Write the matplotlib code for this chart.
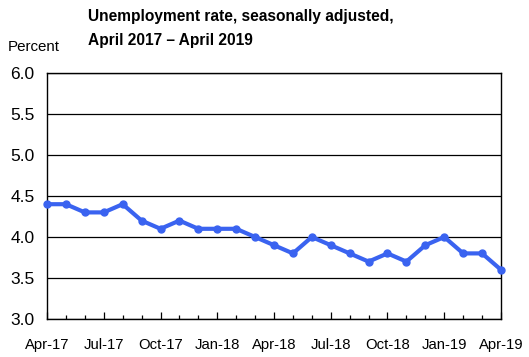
import matplotlib
matplotlib.use("Agg")
import matplotlib.pyplot as plt
from matplotlib.ticker import FixedLocator

plt.rcParams['font.family'] = ['Liberation Sans', 'DejaVu Sans']

months = ["Apr-17", "May-17", "Jun-17", "Jul-17", "Aug-17", "Sep-17", "Oct-17", "Nov-17", "Dec-17",
          "Jan-18", "Feb-18", "Mar-18", "Apr-18", "May-18", "Jun-18", "Jul-18", "Aug-18", "Sep-18",
          "Oct-18", "Nov-18", "Dec-18", "Jan-19", "Feb-19", "Mar-19", "Apr-19"]
rates = [4.4, 4.4, 4.3, 4.3, 4.4, 4.2, 4.1, 4.2, 4.1, 4.1, 4.1, 4.0, 3.9, 3.8, 4.0, 3.9, 3.8, 3.7,
         3.8, 3.7, 3.9, 4.0, 3.8, 3.8, 3.6]
yticks = [3.0, 3.5, 4.0, 4.5, 5.0, 5.5, 6.0]

fig = plt.figure(figsize=(5.29, 3.57), dpi=100)
ax = fig.add_axes([47/529, 1 - 319/357, 454/529, 246/357])

x = list(range(len(months)))
ax.plot(x, rates, color='#3a63f0', linewidth=3.0, marker='o', markersize=5, clip_on=False, zorder=3)

ax.set_xlim(0, len(months) - 1)
ax.set_ylim(3.0, 6.0)
ax.set_yticks(yticks)
ax.set_yticklabels([f"{v:.1f}" for v in yticks], fontsize=12.5)
ax.yaxis.grid(True, color='black', linewidth=0.9)
ax.set_axisbelow(True)
ax.tick_params(axis='y', length=0, pad=9)

major = x[::3]
ax.xaxis.set_major_locator(FixedLocator(major))
ax.set_xticklabels(months[::3], fontsize=10.7)
ax.xaxis.set_minor_locator(FixedLocator([i for i in x if i % 3 != 0]))
ax.tick_params(axis='x', which='major', direction='in', length=5, width=0.9, pad=14)
ax.tick_params(axis='x', which='minor', direction='in', length=3, width=0.9)

for s in ax.spines.values():
    s.set_linewidth(1.0)
    s.set_color('black')

fig.text(88/529, 1 - 16/357, "Unemployment rate, seasonally adjusted,", fontsize=11.2,
         fontweight='bold', va='center', ha='left')
fig.text(88/529, 1 - 40/357, "April 2017 \u2013 April 2019", fontsize=11.2,
         fontweight='bold', va='center', ha='left')
fig.text(8/529, 1 - 47/357, "Percent", fontsize=10.9, va='center', ha='left')

fig.savefig("out.png", dpi=100)
